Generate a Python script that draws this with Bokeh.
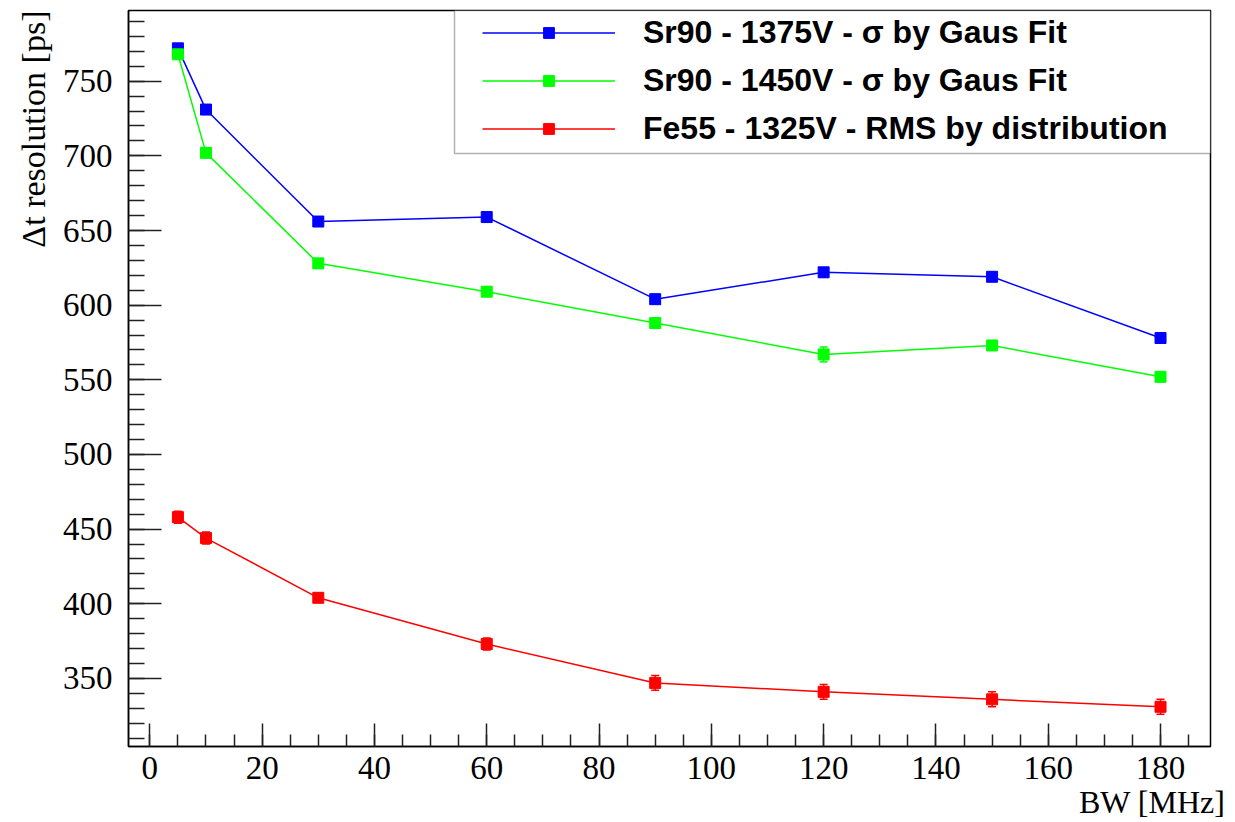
from bokeh.plotting import figure
from bokeh.models import (Range1d, SingleIntervalTicker, Legend, LegendItem, Title,
                          BoxAnnotation, Whisker, ColumnDataSource, TeeHead)
from bokeh.embed import file_html
from bokeh.resources import INLINE

# ---- data ----
bw = [5, 10, 30, 60, 90, 120, 150, 180]
sr90_1375 = [772, 731, 656, 659, 604, 622, 619, 578]
sr90_1375_err = [2, 3, 3, 3, 3, 3, 3, 3]
sr90_1450 = [768, 702, 628, 609, 588, 567, 573, 552]
sr90_1450_err = [3, 3, 3, 3, 3, 5, 3, 3]
fe55_1325 = [458, 444, 404, 373, 347, 341, 336, 331]
fe55_1325_err = [4, 4, 3, 4, 5, 5, 5, 5]
labels = ["Sr90 - 1375V - σ by Gaus Fit",
          "Sr90 - 1450V - σ by Gaus Fit",
          "Fe55 - 1325V - RMS by distribution"]
colors = ["#0000ff", "#00ff00", "#ff0000"]
x_title = "BW [MHz]"
y_title = "Δt resolution [ps]"

p = figure(width=1235, height=822, output_backend="svg", toolbar_location=None,
           title=None,
           x_range=Range1d(-3.8, 188.9), y_range=Range1d(304.4, 797.35),
           min_border_left=128, min_border_right=25, min_border_top=10,
           min_border_bottom=76)
p.background_fill_color = "white"
p.border_fill_color = "white"
p.grid.visible = False
p.outline_line_color = "black"
p.outline_line_width = 1.5

p.xaxis.ticker = SingleIntervalTicker(interval=20, num_minor_ticks=4)
p.yaxis.ticker = SingleIntervalTicker(interval=50, num_minor_ticks=5)
for ax in (p.xaxis[0], p.yaxis[0]):
    ax.axis_line_color = "black"
    ax.axis_line_width = 1.5
    ax.major_tick_line_color = "#222222"
    ax.major_tick_line_width = 1.5
    ax.minor_tick_line_color = "#222222"
    ax.minor_tick_line_width = 1.5
    ax.major_tick_out = 0
    ax.minor_tick_out = 0
    ax.major_label_text_font = "Liberation Serif"
    ax.major_label_text_font_size = "33px"
    ax.major_label_text_color = "black"
p.yaxis.major_tick_in = 33
p.yaxis.minor_tick_in = 16
p.yaxis.major_label_standoff = 16
p.xaxis.major_tick_in = 23
p.xaxis.minor_tick_in = 12
p.xaxis.major_label_standoff = 10

p.add_layout(Title(text=x_title, align="right", text_font="Liberation Serif",
                   text_font_size="32px", text_font_style="normal", offset=-15,
                   standoff=0, text_color="black"), "below")
p.add_layout(Title(text=y_title, align="right", text_font="Liberation Serif",
                   text_font_size="34px", text_font_style="normal",
                   standoff=16, text_color="black"), "left")

series = [(sr90_1375, sr90_1375_err), (sr90_1450, sr90_1450_err), (fe55_1325, fe55_1325_err)]
items = []
for (ys, errs), c, lab in zip(series, colors, labels):
    src = ColumnDataSource(dict(x=bw, y=ys,
                                lower=[y - e for y, e in zip(ys, errs)],
                                upper=[y + e for y, e in zip(ys, errs)]))
    p.add_layout(Whisker(source=src, base="x", upper="upper", lower="lower",
                         line_color=c, line_width=1.5,
                         upper_head=TeeHead(size=8, line_color=c, line_width=1.5),
                         lower_head=TeeHead(size=8, line_color=c, line_width=1.5)))
    lr = p.line("x", "y", source=src, line_color=c, line_width=1.5)
    sr = p.scatter("x", "y", source=src, marker="square", size=11,
                   fill_color=c, line_color=c)
    items.append(LegendItem(label=lab, renderers=[lr, sr]))

# legend frame
p.add_layout(BoxAnnotation(left=54.26, right=188.9, bottom=701.6, top=797.35,
                           fill_color="white", fill_alpha=1.0,
                           line_color="black", line_width=1.5))

legend = Legend(items=items, location="top_right", margin=0, padding=4,
                spacing=11, glyph_width=133, glyph_height=27, label_height=27,
                label_width=563, label_standoff=28,
                label_text_font="Liberation Sans", label_text_font_style="bold",
                label_text_font_size="32px", label_text_color="black",
                border_line_alpha=0, background_fill_alpha=0)
p.add_layout(legend)

open("out.html", "w").write(file_html(p, INLINE))
